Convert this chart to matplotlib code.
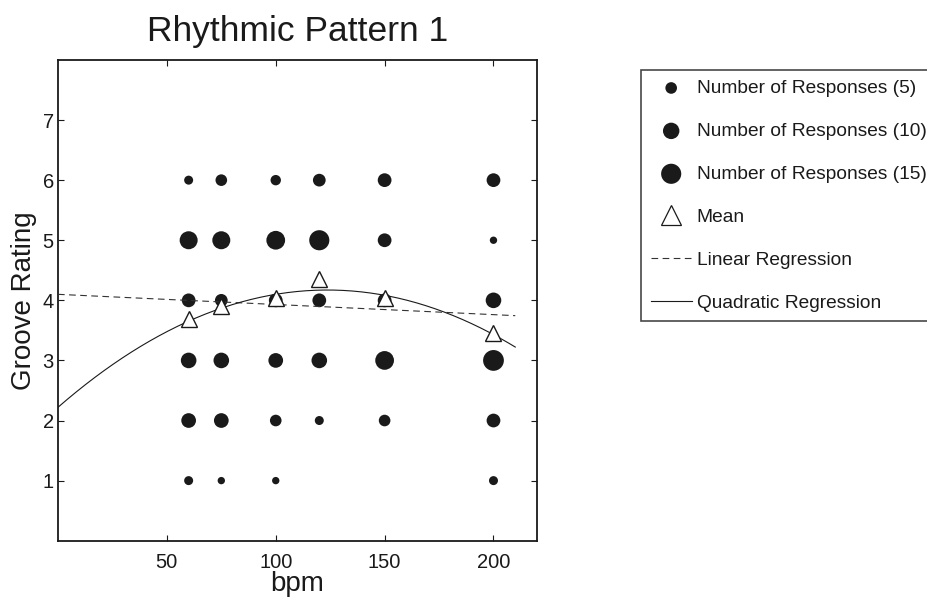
import numpy as np
import matplotlib.pyplot as plt

plt.rcParams['font.family'] = ['Liberation Sans', 'DejaVu Sans']

# data
bpm = [60, 75, 100, 120, 150, 200]
ratings = [1, 2, 3, 4, 5, 6]
# number of responses per bpm (rows) and rating 1..6 (columns)
response_counts = [
    [3, 8, 9, 7, 12, 3],
    [2, 8, 9, 6, 12, 5],
    [2, 5, 8, 7, 13, 4],
    [0, 3, 9, 7, 15, 6],
    [0, 5, 13, 7, 7, 7],
    [3, 7, 16, 9, 2, 7],
]
mean_ratings = [3.69, 3.90, 4.04, 4.36, 4.04, 3.46]

# regression coefficients (highest power first), fitted range in bpm
linear_coef = [-0.00169, 4.10]
quad_coef = [-1.275e-4, 0.03155, 2.22]
fit_range = [0, 210]

legend_counts = [5, 10, 15]
size_per_response = 14.0   # marker area (pt^2) per response


def main():
    fig = plt.figure(figsize=(9.28, 6.04), dpi=100)
    ax = fig.add_axes([0.0625, 0.1048, 0.5162, 0.7959])

    xs, ys, ss = [], [], []
    for b, row in zip(bpm, response_counts):
        for r, n in zip(ratings, row):
            if n > 0:
                xs.append(b)
                ys.append(r)
                ss.append(n * size_per_response)
    ax.scatter(xs, ys, s=ss, c='#1a1a1a', edgecolors='none', zorder=2)

    xfit = np.linspace(fit_range[0], fit_range[1], 200)
    ax.plot(xfit, np.polyval(linear_coef, xfit), color='#333333', lw=0.8,
            ls=(0, (6, 4)), zorder=3)
    ax.plot(xfit, np.polyval(quad_coef, xfit), color='#1a1a1a', lw=0.8, zorder=3)
    ax.plot(bpm, mean_ratings, ls='none', marker='^', ms=11, mfc='white',
            mec='#1a1a1a', mew=1.0, zorder=4)

    ax.set_xlim(0, 220)
    ax.set_ylim(0, 8)
    ax.set_xticks([50, 100, 150, 200])
    ax.set_yticks([1, 2, 3, 4, 5, 6, 7])
    ax.tick_params(direction='in', top=True, right=True, length=4, width=0.8,
                   labelsize=14.5, colors='#1a1a1a')
    ax.tick_params(axis='x', pad=9)
    ax.tick_params(axis='y', pad=3)
    for sp in ax.spines.values():
        sp.set_linewidth(1.3)
        sp.set_color('#1a1a1a')

    ax.set_xlabel('bpm', fontsize=20, labelpad=-1, color='#1a1a1a')
    ax.set_ylabel('Groove Rating', fontsize=20, labelpad=4, color='#1a1a1a')
    ax.set_title('Rhythmic Pattern 1', fontsize=25.5, pad=14, color='#1a1a1a')

    # legend handles
    handles = []
    labels = []
    for n in legend_counts:
        h = ax.scatter([], [], s=n * size_per_response, c='#1a1a1a',
                       edgecolors='none')
        handles.append(h)
        labels.append('Number of Responses ({})'.format(n))
    h_mean, = ax.plot([], [], ls='none', marker='^', ms=14, mfc='white',
                      mec='#1a1a1a', mew=0.9)
    h_lin, = ax.plot([], [], color='#333333', lw=0.8, ls=(0, (6, 4)))
    h_quad, = ax.plot([], [], color='#1a1a1a', lw=0.8)
    handles += [h_mean, h_lin, h_quad]
    labels += ['Mean', 'Linear Regression', 'Quadratic Regression']

    leg = fig.legend(handles, labels, loc='upper left',
                     bbox_to_anchor=(641 / 928, 1 - 70 / 604),
                     borderaxespad=0, fontsize=13.8, frameon=True, fancybox=False,
                     edgecolor='#1a1a1a', handlelength=2.15, handletextpad=0.25,
                     labelspacing=1.33, borderpad=0.5, scatterpoints=1)
    leg.get_frame().set_linewidth(1.2)
    for t in leg.get_texts():
        t.set_color('#1a1a1a')

    fig.savefig('out.png', dpi=100)


if __name__ == "__main__":
    main()
